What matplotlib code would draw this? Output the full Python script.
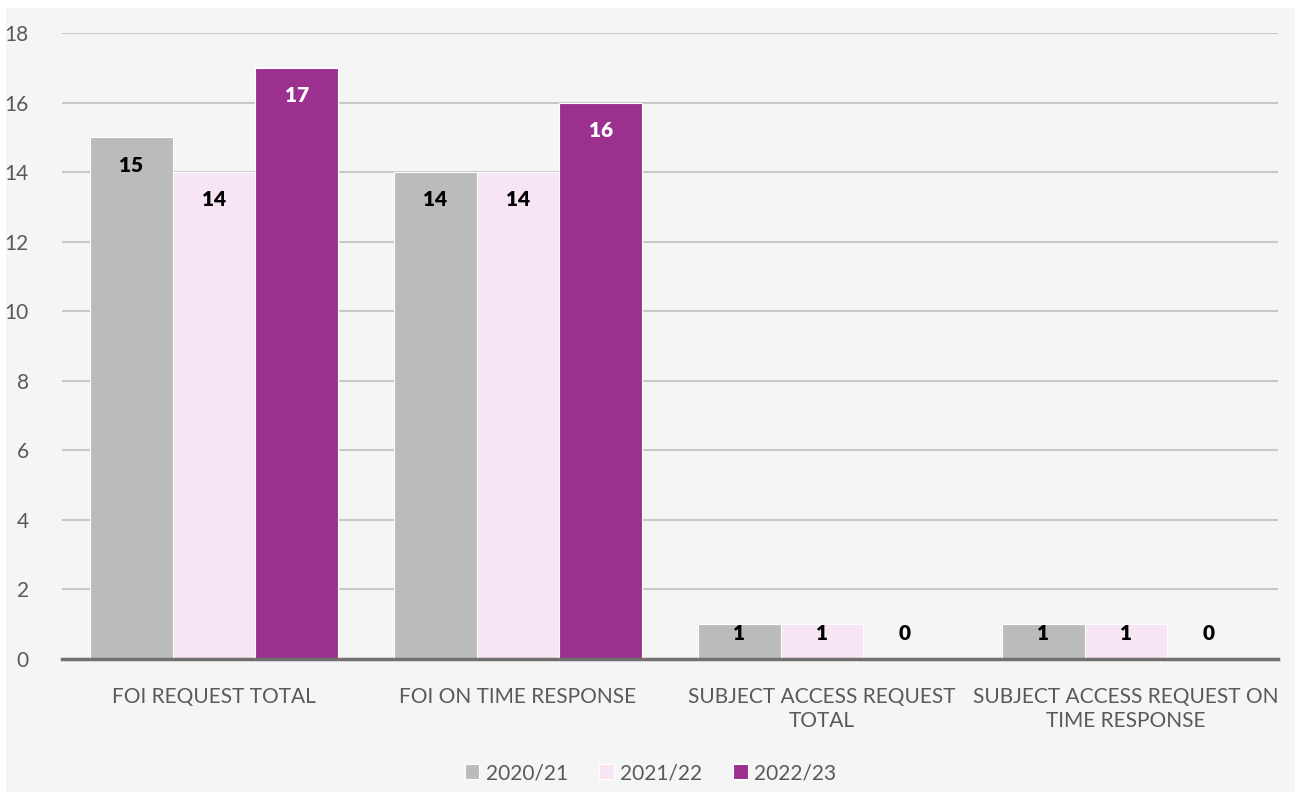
import numpy as np
import matplotlib.pyplot as plt

categories = ["FOI REQUEST TOTAL", "FOI ON TIME RESPONSE",
              "SUBJECT ACCESS REQUEST\nTOTAL", "SUBJECT ACCESS REQUEST ON\nTIME RESPONSE"]
series = ["2020/21", "2021/22", "2022/23"]
v2021 = [15, 14, 1, 1]
v2122 = [14, 14, 1, 1]
v2223 = [17, 16, 0, 0]
colors = ["#bbbbbb", "#f7e4f4", "#9b308f"]
label_colors = ["black", "black", "white"]

plt.rcParams['font.family'] = ['Lato', 'DejaVu Sans']

fig = plt.figure(figsize=(13.01, 7.92), dpi=100)
fig.patch.set_facecolor("white")
bg = plt.Rectangle((6 / 1301, 0), 1 - 12 / 1301, 1 - 8 / 792, transform=fig.transFigure,
                   facecolor="#f5f5f5", edgecolor="none", zorder=-10)
fig.patches.append(bg)

ax = fig.add_axes([62 / 1301, 1 - 659 / 792, (1278 - 62) / 1301, (659 - 33) / 792])
ax.set_facecolor("#f5f5f5")

x = np.arange(len(categories))
w = 0.273
data = [v2021, v2122, v2223]
for i, vals in enumerate(data):
    pos = x + (i - 1) * w
    ax.bar(pos, vals, width=w, color=colors[i], edgecolor="white", linewidth=0.8,
           label=series[i], zorder=3)
    for p, v in zip(pos, vals):
        c = label_colors[i] if v > 0 else "black"
        ax.text(p, max(v - 0.8, 0.74), str(v), ha="center", va="center",
                fontsize=15, fontweight="heavy", color=c, zorder=4)

ax.set_ylim(0, 18)
ax.set_xlim(-0.5, 3.5)
ax.set_yticks(range(0, 19, 2))
ax.yaxis.grid(True, color="#c8c8c8", linewidth=1.5, zorder=0)
ax.set_xticks(x)
ax.set_xticklabels(categories, fontsize=15, color="#595959", linespacing=1.25)
ax.tick_params(axis="y", labelsize=15, labelcolor="#595959", length=0, pad=24)
ax.tick_params(axis="x", length=0, pad=20)
for s in ["top", "right", "left"]:
    ax.spines[s].set_visible(False)
ax.spines["bottom"].set_color("#707070")
ax.spines["bottom"].set_linewidth(2.5)
ax.spines["bottom"].set_zorder(5)

fig.legend(loc="center", bbox_to_anchor=(0.5, 1 - 773 / 792), ncol=3, frameon=False,
           fontsize=15, labelcolor="#595959", handlelength=0.7, handleheight=0.7,
           handletextpad=0.3, columnspacing=1.5)

plt.savefig("out.png", dpi=100, facecolor=fig.get_facecolor())
